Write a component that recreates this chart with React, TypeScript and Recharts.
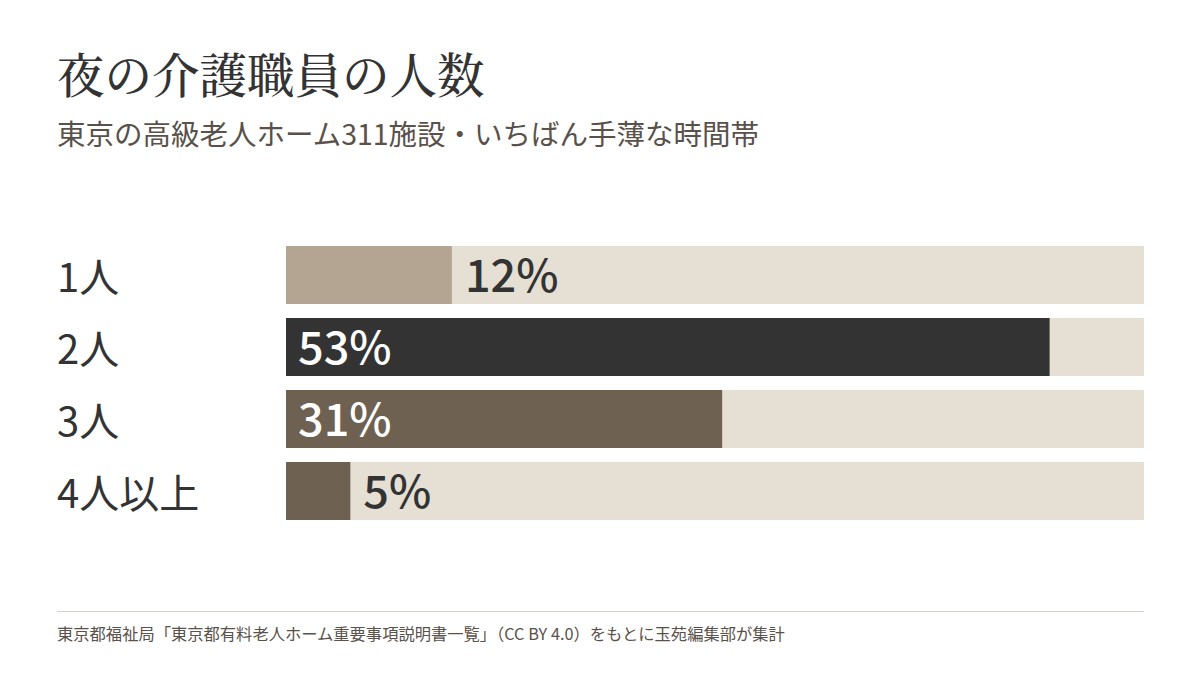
import React from "react";
import { BarChart, Bar, XAxis, YAxis, Cell, LabelList } from "recharts";

const categories = ["1人", "2人", "3人", "4人以上"];
const shares = [11.6, 53.4, 30.5, 4.5];
const barColors = ["#b3a592", "#333333", "#6e6151", "#6e6151"];
const xDomainMax = 60;

const title = "夜の介護職員の人数";
const subtitle = "東京の高級老人ホーム311施設・いちばん手薄な時間帯";
const source = "東京都福祉局「東京都有料老人ホーム重要事項説明書一覧」（CC BY 4.0）をもとに玉苑編集部が集計";

const data = categories.map((c, i) => ({ name: c, value: shares[i] }));

const SANS = '"Noto Sans CJK JP", "Noto Sans", sans-serif';
const SERIF = '"Noto Serif CJK JP", "Noto Sans CJK JP", serif';

const CategoryTick = (props: any) => {
  const { y, payload } = props;
  return (
    <text x={57} y={y + 17} fill="#333333" fontSize={40} fontFamily={SANS} textAnchor="start">
      {payload.value}
    </text>
  );
};

const ValueLabel = (props: any) => {
  const { x, y, width, height, value } = props;
  const outside = value < 20;
  const cy = y + height / 2;
  return (
    <text
      x={outside ? x + width + 13 : x + 12}
      y={cy + 17}
      fill={outside ? "#333333" : "#ffffff"}
      fontSize={45}
      fontWeight={500}
      fontFamily={SANS}
      textAnchor="start"
    >
      {Math.round(value)}%
    </text>
  );
};

export default function App() {
  return (
    <div style={{ position: "absolute", left: 0, top: 0, width: 1200, height: 675, background: "#ffffff", overflow: "hidden" }}>
      <div style={{ position: "absolute", left: 57, top: 49, fontSize: 47.5, lineHeight: 1, fontFamily: SERIF, color: "#333333", fontWeight: 500, whiteSpace: "nowrap" }}>
        {title}
      </div>
      <div style={{ position: "absolute", left: 57, top: 119, fontSize: 28.5, lineHeight: 1, fontFamily: SANS, color: "#59514a", whiteSpace: "nowrap" }}>
        {subtitle}
      </div>
      <div style={{ position: "absolute", left: 0, top: 0 }}>
        <BarChart
          width={1200}
          height={675}
          data={data}
          layout="vertical"
          margin={{ top: 239, right: 56, bottom: 148, left: 0 }}
          barSize={58}
        >
          <XAxis type="number" domain={[0, xDomainMax]} hide />
          <YAxis
            type="category"
            dataKey="name"
            width={286}
            axisLine={false}
            tickLine={false}
            tick={<CategoryTick />}
            interval={0}
          />
          <Bar dataKey="value" isAnimationActive={false} background={{ fill: "#e5dfd4" }}>
            {data.map((d, i) => (
              <Cell key={d.name} fill={barColors[i]} />
            ))}
            <LabelList dataKey="value" content={<ValueLabel />} />
          </Bar>
        </BarChart>
      </div>
      <div style={{ position: "absolute", left: 57, top: 611, width: 1087, height: 1, background: "#d6d0c8" }} />
      <div style={{ position: "absolute", left: 57, top: 625, fontSize: 16.3, lineHeight: 1, fontFamily: SANS, color: "#59514a", whiteSpace: "nowrap" }}>
        {source}
      </div>
    </div>
  );
}
